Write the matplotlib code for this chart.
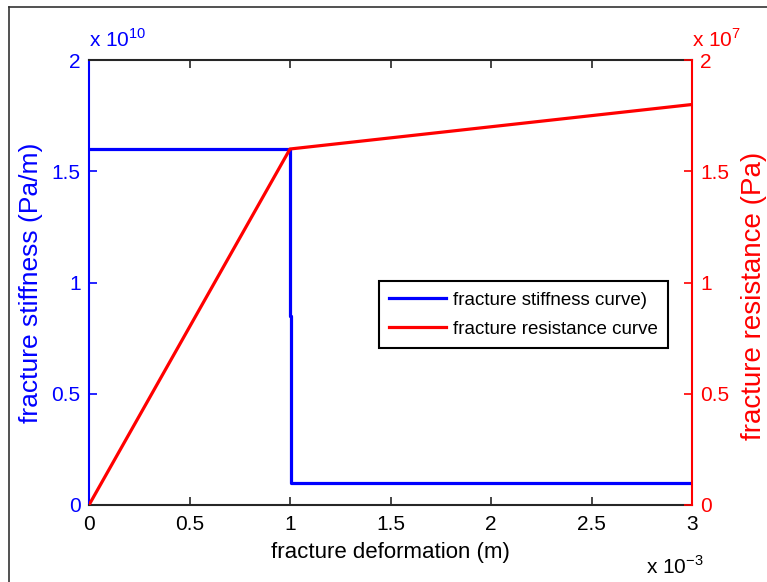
import matplotlib
matplotlib.use('Agg')
import matplotlib.pyplot as plt
from matplotlib.ticker import FuncFormatter
from matplotlib.lines import Line2D

plt.rcParams['font.family'] = ['Liberation Sans', 'DejaVu Sans']
plt.rcParams['mathtext.fontset'] = 'custom'
plt.rcParams['mathtext.rm'] = 'Liberation Sans'

# 裂缝变形 / 刚度 / 抗力
deform_k = [0, 1.0e-3, 1.0e-3, 1.005e-3, 1.005e-3, 3.0e-3]
stiffness = [1.6e10, 1.6e10, 0.85e10, 0.85e10, 0.1e10, 0.1e10]

deform_r = [0, 1.0e-3, 3.0e-3]
resistance = [0, 1.6e7, 1.8e7]

x_ticks = [0, 0.5e-3, 1.0e-3, 1.5e-3, 2.0e-3, 2.5e-3, 3.0e-3]
k_ticks = [0, 0.5e10, 1.0e10, 1.5e10, 2.0e10]
r_ticks = [0, 0.5e7, 1.0e7, 1.5e7, 2.0e7]

blue = '#0000ff'
red = '#ff0000'
dark = '#262626'

fig = plt.figure(figsize=(7.67, 5.82), dpi=100)
ax = fig.add_axes([89/767, 1 - 505/582, 603/767, 445/582])
ax2 = ax.twinx()

l1, = ax.plot(deform_k, stiffness, color=blue, lw=2.3, label='fracture stiffness curve)')
l2, = ax2.plot(deform_r, resistance, color=red, lw=2.3, label='fracture resistance curve')

ax.set_xlim(0, 3e-3)
ax.set_ylim(0, 2e10)
ax2.set_ylim(0, 2e7)
ax.set_xticks(x_ticks)
ax.set_yticks(k_ticks)
ax2.set_yticks(r_ticks)

ax.xaxis.set_major_formatter(FuncFormatter(lambda v, p: f'{v / 1e-3:g}'))
ax.yaxis.set_major_formatter(FuncFormatter(lambda v, p: f'{v / 1e10:g}'))
ax2.yaxis.set_major_formatter(FuncFormatter(lambda v, p: f'{v / 1e7:g}'))

# 坐标轴样式（刻度朝内）
for s in ['top', 'bottom']:
    ax.spines[s].set_color(dark)
    ax.spines[s].set_linewidth(1.5)
ax.spines['left'].set_color(blue)
ax.spines['left'].set_linewidth(1.5)
ax.spines['right'].set_visible(False)
for s in ['top', 'bottom', 'left']:
    ax2.spines[s].set_visible(False)
ax2.spines['right'].set_color(red)
ax2.spines['right'].set_linewidth(1.5)

ax.tick_params(axis='x', direction='in', top=True, length=6, width=1.2,
               color=dark, labelsize=15, pad=7, labelcolor='black')
ax.tick_params(axis='y', direction='in', length=6, width=1.2,
               color=blue, labelcolor=blue, labelsize=15, pad=6)
ax2.tick_params(axis='y', direction='in', length=6, width=1.2,
                color=red, labelcolor=red, labelsize=15, pad=6)

ax.set_xlabel('fracture deformation (m)', fontsize=16, labelpad=6)
ax.set_ylabel('fracture stiffness (Pa/m)', fontsize=19, color=blue, labelpad=6)
ax2.set_ylabel('fracture resistance (Pa)', fontsize=20, color=red)
ax2.yaxis.set_label_coords(1.082, 0.47)

# 指数标注
ax.text(0, 1.03, r'x 10$^{10}$', transform=ax.transAxes, fontsize=15,
        color=blue, ha='left', va='baseline')
ax2.text(1.0, 1.03, r'x 10$^{7}$', transform=ax2.transAxes, fontsize=15,
         color=red, ha='left', va='baseline')
ax.text(0.924, -0.155, r'x 10$^{-3}$', transform=ax.transAxes, fontsize=15,
        color='black', ha='left', va='baseline')

leg = ax2.legend(handles=[l1, l2], loc='upper left', bbox_to_anchor=(0.481, 0.503),
                 borderaxespad=0, fontsize=13.5, frameon=True, fancybox=False,
                 framealpha=1, edgecolor='black', handlelength=3.0, borderpad=0.55,
                 labelspacing=0.65, handletextpad=0.4)
leg.get_frame().set_linewidth(1.5)

# 外框
fig.add_artist(Line2D([9/767, 9/767], [0, 1 - 7/582], color='#333333', lw=1.2))
fig.add_artist(Line2D([9/767, 1], [1 - 7/582, 1 - 7/582], color='#333333', lw=1.2))

fig.savefig('out.png', dpi=100)
